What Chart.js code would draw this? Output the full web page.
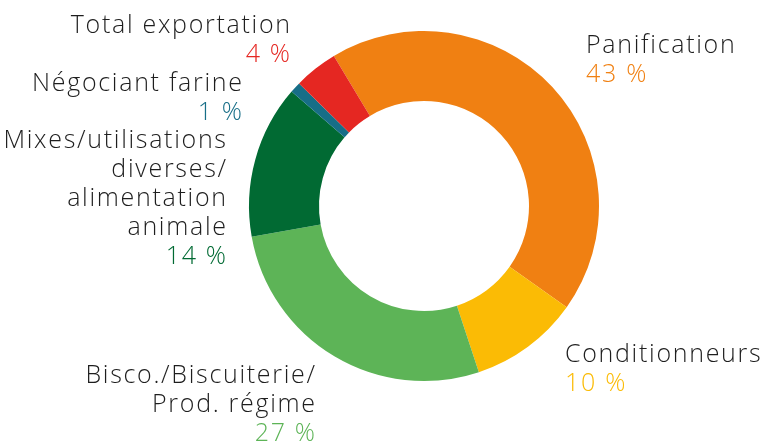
<!DOCTYPE html>
<html>
<head>
<meta charset="utf-8">
<script src="https://cdn.jsdelivr.net/npm/chart.js@4"></script>
<style>
  html, body { margin: 0; padding: 0; background: #fff; }
  #wrap { width: 766px; height: 443px; position: relative; }
</style>
</head>
<body>
<div id="wrap"><canvas id="chart"></canvas></div>
<script>
const categories = ['Panification', 'Conditionneurs', 'Bisco./Biscuiterie/\nProd. régime', 'Mixes/utilisations\ndiverses/\nalimentation\nanimale', 'Négociant farine', 'Total exportation']
const shares = [43, 10, 27, 14, 1, 4]
const colors = ['#f08012', '#fbbb05', '#5db457', '#016a33', '#176e87', '#e52722']

// label placement: anchor x, first baseline y, alignment
const labelLayout = [
  { x: 586, y: 53, align: 'left' },
  { x: 565, y: 362, align: 'left' },
  { x: 315, y: 383, align: 'right' },
  { x: 226, y: 148, align: 'right' },
  { x: 242, y: 91, align: 'right' },
  { x: 290, y: 33, align: 'right' }
]

const FONT = '300 25px "Open Sans", Lato, sans-serif'
const SPACING = 1.7
const LINE = 29

const labelPlugin = {
  id: 'sliceLabels',
  afterDraw(chart) {
    const ctx = chart.ctx
    ctx.save()
    ctx.font = FONT
    ctx.letterSpacing = SPACING + 'px'
    ctx.textBaseline = 'alphabetic'
    categories.forEach((cat, i) => {
      const pos = labelLayout[i]
      ctx.textAlign = pos.align
      const x = pos.align === 'right' ? pos.x + SPACING : pos.x
      const lines = cat.split('\n')
      lines.forEach((line, j) => {
        ctx.fillStyle = '#1e1e1e'
        ctx.fillText(line, x, pos.y + j * LINE)
      })
      ctx.fillStyle = colors[i]
      ctx.fillText(shares[i] + ' %', x, pos.y + lines.length * LINE)
    })
    ctx.restore()
  }
}

new Chart(document.getElementById('chart'), {
  type: 'doughnut',
  data: {
    labels: categories,
    datasets: [{
      data: shares,
      backgroundColor: colors,
      borderWidth: 0
    }]
  },
  options: {
    responsive: true,
    maintainAspectRatio: false,
    animation: false,
    rotation: -31,
    cutout: '60%',
    layout: { padding: { left: 249, right: 167, top: 31, bottom: 62 } },
    plugins: {
      legend: { display: false },
      tooltip: { enabled: false }
    }
  },
  plugins: [labelPlugin]
})
</script>
</body>
</html>
